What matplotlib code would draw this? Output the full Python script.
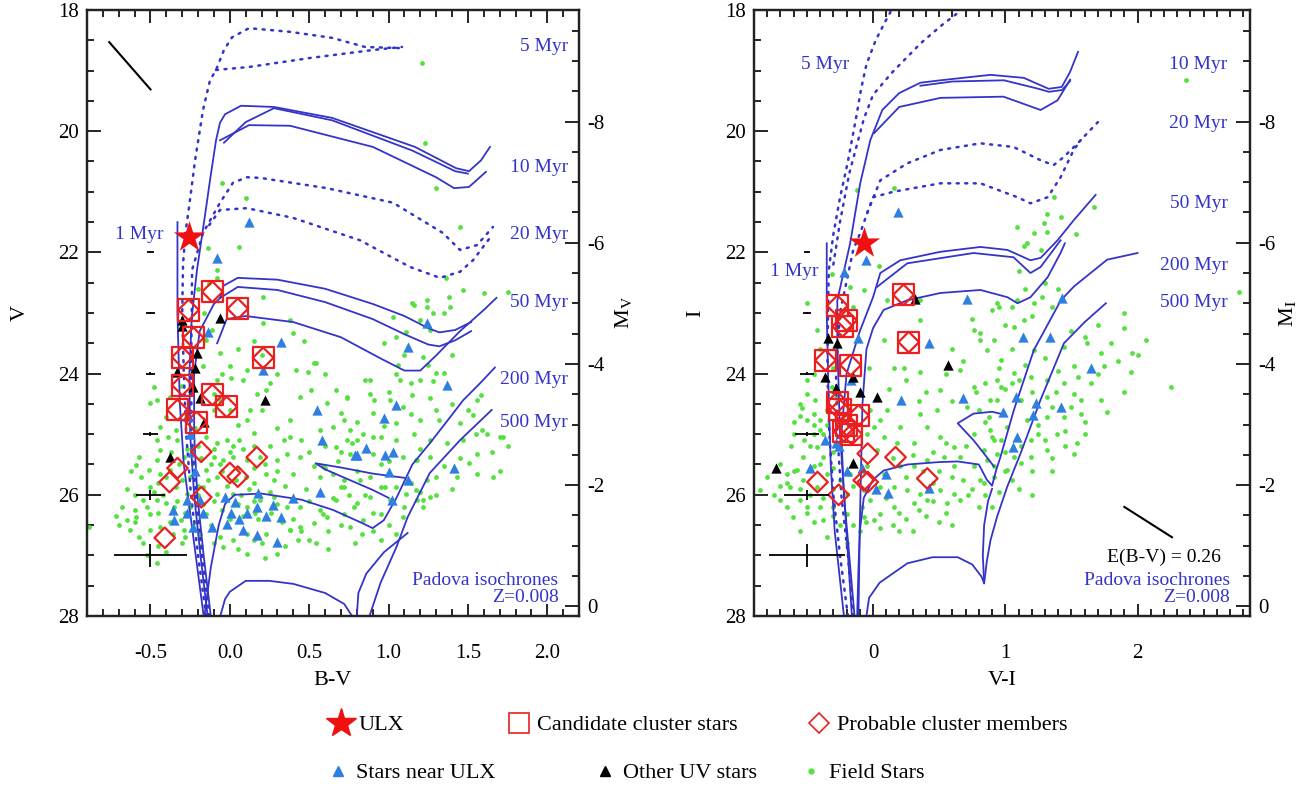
import matplotlib
matplotlib.use("Agg")
import matplotlib.pyplot as plt
from matplotlib.lines import Line2D
from matplotlib.ticker import MultipleLocator, FormatStrFormatter

plt.rcParams['font.family'] = ['Liberation Serif', 'DejaVu Serif']
plt.rcParams['mathtext.fontset'] = 'stix'
plt.rcParams['axes.unicode_minus'] = False

# distance modulus used for the absolute magnitude axis
dist_mod = 27.84

# ---------------- left panel: B-V vs V ----------------
ulx_left = [(-0.26, 21.75)]

field_left = [
    (1.21, 18.88), (1.23, 20.2), (1.30, 20.94), (-0.05, 20.85), (0.10, 21.1), (0.06, 21.91),
    (-0.14, 21.93), (-0.08, 22.29), (-0.08, 22.42), (0.21, 22.74), (1.45, 21.58), (1.36, 22.42),
    (1.15, 22.84), (1.24, 22.79), (1.38, 22.74), (1.47, 22.62), (1.60, 22.67), (1.75, 22.65),
    (1.03, 23.07), (-0.2, 22.6), (-0.13, 22.5),
    (-0.16, 23.0), (-0.15, 23.45), (0.15, 23.47), (0.47, 23.47), (0.40, 23.33), (0.21, 23.17),
    (-0.06, 23.66), (0.00, 23.88), (-0.08, 24.1), (0.01, 24.08), (0.08, 24.1), (0.11, 23.94),
    (0.17, 24.33), (0.25, 24.16), (0.23, 24.27), (0.42, 23.94), (0.49, 23.97), (0.53, 23.83),
    (0.44, 24.38), (0.51, 24.27), (0.61, 24.49), (0.74, 24.38), (0.72, 24.77), (0.76, 24.93),
    (0.65, 24.88), (0.57, 24.93), (0.38, 24.77), (0.38, 25.04), (0.34, 25.1), (0.15, 24.98),
    (0.11, 24.77), (0.13, 24.6), (0.00, 24.6), (-0.06, 24.43), (-0.10, 24.33), (0.06, 25.1),
    (0.02, 25.2), (-0.02, 25.1), (-0.08, 25.15), (-0.10, 25.37), (-0.04, 25.43), (0.02, 25.37),
    (0.11, 25.43), (0.19, 25.37), (0.30, 25.43), (0.36, 25.32), (0.44, 25.37), (0.53, 25.53),
    (0.57, 25.7), (0.65, 25.65), (0.72, 25.76), (0.40, 25.65), (0.28, 25.76), (0.23, 25.65),
    (0.15, 25.81), (-0.08, 25.7), (-0.15, 25.59), (-0.23, 25.48), (-0.29, 25.37), (-0.44, 25.26),
    (-0.46, 25.43), (-0.57, 25.37), (-0.59, 25.51), (-0.51, 25.59), (-0.44, 25.65), (-0.38, 25.59),
    (-0.50, 25.87), (-0.55, 26.08), (-0.46, 26.08), (-0.40, 26.14), (-0.50, 26.31), (-0.59, 26.36),
    (-0.65, 26.42), (-0.63, 26.58), (-0.57, 26.69), (-0.50, 26.58), (-0.44, 26.53), (-0.36, 26.64),
    (-0.29, 26.58), (-0.31, 26.42), (-0.19, 26.64), (-0.06, 26.69), (0.02, 26.75), (0.11, 26.64),
    (0.23, 26.64), (0.38, 26.58), (0.44, 26.53), (0.53, 26.47), (0.61, 26.36), (0.72, 26.31),
    (0.78, 26.2), (0.36, 26.2), (0.44, 26.2), (0.28, 26.03), (0.19, 26.08), (0.11, 26.2),
    (0.02, 25.98), (-0.08, 25.98), (-0.17, 25.87), (-0.27, 25.98), (-0.34, 25.87), (-0.25, 26.2),
    (-0.15, 26.31), (-0.04, 26.86), (0.30, 26.97), (0.11, 26.97), (-0.46, 27.13), (-0.89, 26.53),
    (-0.11, 23.28), (-0.17, 23.88), (-0.46, 24.43), (-0.38, 24.38), (-0.50, 24.49), (-0.48, 24.22),
    (-0.40, 24.71), (-0.44, 24.88), (-0.34, 24.93), (-0.39, 25.04), (-0.46, 25.1), (-0.27, 24.6),
    (-0.15, 25.04), (-0.2, 25.2), (-0.12, 25.5), (-0.05, 25.6), (0.05, 25.55), (0.1, 25.7),
    (-0.02, 25.85), (0.07, 26.0), (0.15, 26.1), (-0.1, 26.1), (-0.2, 26.0), (-0.28, 26.3),
    (-0.35, 26.2), (-0.42, 26.0), (-0.38, 26.45), (-0.22, 26.45), (-0.12, 26.5), (0.0, 26.4),
    (0.08, 26.35), (0.18, 26.4), (0.26, 26.3), (0.33, 26.45), (-0.45, 25.8), (-0.52, 26.2),
    (-0.6, 26.0), (-0.68, 26.2), (-0.7, 26.5), (-0.55, 26.8), (-0.45, 26.85), (-0.3, 26.8),
    (-0.18, 26.85), (0.05, 26.9), (0.2, 26.8), (0.5, 26.75), (0.62, 26.6), (0.7, 26.5),
    (-0.25, 25.7), (-0.32, 25.5), (-0.37, 25.3), (-0.22, 24.9), (-0.3, 24.2), (0.2, 24.6),
    (0.3, 24.9), (0.45, 25.1), (0.5, 25.3), (0.6, 25.2), (0.68, 25.45), (0.8, 25.6),
    (0.85, 26.0), (0.9, 26.3),
    (1.16, 22.87), (1.24, 22.9), (1.28, 23.0), (1.20, 23.11), (1.35, 23.0), (1.39, 22.9),
    (1.26, 23.28), (1.11, 23.31), (1.05, 23.39), (0.97, 23.5), (1.22, 23.72), (1.07, 24.1),
    (1.14, 24.16), (1.20, 24.1), (1.28, 24.13), (1.35, 23.99), (0.88, 24.1), (0.88, 24.33),
    (0.74, 24.41), (1.26, 24.41), (1.58, 24.35), (1.01, 24.44), (1.09, 24.55), (1.14, 24.66),
    (0.97, 24.87), (1.05, 24.82), (1.20, 24.77), (1.32, 24.77), (1.45, 24.82), (1.53, 24.68),
    (1.62, 24.99), (1.70, 25.04), (1.56, 25.32), (1.47, 25.1), (1.37, 25.15), (1.26, 25.1),
    (1.16, 24.99), (1.05, 25.1), (0.95, 25.04), (0.84, 24.99), (0.74, 25.1), (0.67, 25.21),
    (0.76, 25.32), (0.90, 25.32), (1.09, 25.37), (1.18, 25.43), (1.26, 25.37), (1.35, 25.53),
    (1.51, 25.48), (1.66, 25.7), (1.56, 25.65), (1.43, 25.7), (1.24, 25.76), (1.14, 25.81),
    (1.05, 25.87), (0.95, 25.87), (0.82, 25.76), (0.72, 25.87), (0.67, 26.08), (0.80, 26.14),
    (0.88, 26.03), (1.01, 26.08), (1.11, 25.98), (1.18, 26.08), (1.26, 26.03), (1.22, 26.2),
    (1.09, 26.36), (0.95, 26.31), (0.84, 26.42), (0.76, 26.53), (0.79, 26.8), (1.05, 26.64),
    (0.38, 23.11), (0.54, 23.83), (0.67, 24.27), (0.91, 24.43), (0.85, 24.1), (1.06, 23.86),
    (1.30, 23.99), (1.56, 24.43), (1.59, 24.93), (1.72, 25.04), (1.17, 25.43), (0.77, 25.15),
    (0.59, 25.53), (0.70, 25.87), (0.98, 25.87), (1.17, 25.92), (1.22, 26.08), (0.59, 26.31),
    (0.38, 26.58), (0.43, 26.75), (0.54, 26.8), (0.83, 26.64),
    (-0.33, 25.1), (-0.27, 25.25), (-0.18, 25.4), (-0.1, 25.25), (0.0, 25.3), (0.08, 25.25),
    (0.15, 25.55), (0.22, 25.5), (0.3, 25.6), (0.35, 25.85), (0.25, 25.95), (0.12, 25.9),
    (0.04, 25.75), (-0.06, 25.5), (-0.14, 25.75), (-0.2, 25.85), (-0.3, 25.75), (-0.4, 25.7),
    (-0.48, 25.95), (-0.56, 25.7), (-0.62, 25.6), (-0.65, 25.9), (-0.72, 26.35), (-0.6, 26.25),
    (-0.45, 26.3), (-0.33, 26.1), (-0.17, 26.15), (-0.05, 26.25), (0.05, 26.15), (0.16, 26.3),
    (0.3, 26.15), (0.4, 26.4), (0.5, 26.1), (0.57, 26.25), (0.65, 26.05), (0.75, 26.0),
    (0.48, 25.9), (0.6, 25.55), (0.7, 25.3), (0.8, 25.1), (0.9, 25.05), (0.95, 25.5),
    (0.88, 25.7), (1.0, 25.45), (1.2, 25.25), (1.3, 25.7), (1.4, 25.9), (1.45, 25.4),
    (1.55, 25.0), (1.65, 25.3), (1.5, 24.6), (1.4, 24.5), (1.3, 24.6), (1.15, 24.35),
    (1.0, 24.3), (0.9, 24.65), (0.8, 24.8), (0.7, 24.65), (0.6, 24.0), (0.3, 24.0),
    (0.2, 23.7), (0.05, 23.6), (-0.05, 24.0), (-0.1, 24.6), (0.05, 24.85), (0.25, 25.2),
    (0.15, 25.2), (-0.28, 26.7), (-0.1, 26.8), (0.15, 26.75), (0.35, 26.85), (0.45, 26.6),
    (-0.4, 26.95), (-0.6, 26.45), (-0.52, 27.0), (0.22, 27.05), (1.7, 25.6), (1.75, 25.2),
    (1.1, 26.2), (1.0, 26.5), (0.9, 26.6), (1.3, 26.0), (1.2, 25.95), (0.95, 26.75),
    (0.62, 26.9), (1.05, 24.0), (1.25, 23.85), (1.4, 23.7), (1.1, 23.7),
]

near_left = [
    (0.12, 21.5), (-0.08, 22.09), (-0.14, 23.31), (0.32, 23.48), (0.21, 23.94), (0.55, 24.6),
    (0.58, 25.1), (0.79, 25.34), (0.57, 25.95), (0.40, 26.05), (0.18, 25.97), (0.27, 26.17),
    (0.32, 26.37), (0.17, 26.66), (0.30, 26.78), (0.08, 26.58), (-0.03, 26.04), (0.01, 26.3),
    (-0.11, 26.53), (-0.23, 26.53), (-0.36, 26.25), (-0.35, 26.42), (-0.27, 26.3), (-0.17, 26.3),
    (-0.19, 26.09), (0.11, 26.3), (0.17, 26.2), (0.23, 26.35), (0.06, 26.4), (-0.02, 26.48),
    (0.03, 26.12), (-0.27, 26.09), (-0.27, 24.7), (-0.25, 25.0), (-0.24, 25.3), (-0.22, 25.6),
    (1.24, 23.17), (1.12, 23.56), (1.37, 24.19), (1.05, 24.52), (0.97, 24.73), (0.86, 25.23),
    (0.80, 25.34), (0.98, 25.34), (1.03, 25.29), (1.00, 25.62), (1.41, 25.56), (1.12, 25.76),
    (1.02, 26.09),
]

uv_left = [
    (-0.30, 23.12), (-0.06, 23.08), (-0.30, 23.22), (-0.21, 23.66), (-0.22, 23.91), (-0.33, 23.97),
    (-0.23, 24.22), (-0.19, 24.4), (0.22, 24.44), (-0.16, 24.8), (-0.38, 25.38),
]

cand_left = [
    (-0.11, 22.65), (-0.26, 22.95), (0.05, 22.93), (-0.23, 23.41), (-0.30, 23.73), (0.21, 23.74),
    (-0.30, 24.19), (-0.11, 24.35), (-0.02, 24.55), (-0.33, 24.6), (-0.21, 24.8),
]

prob_left = [
    (-0.18, 25.29), (0.17, 25.38), (-0.38, 25.79), (0.00, 25.64), (0.05, 25.7), (-0.18, 26.04),
    (-0.41, 26.71), (-0.33, 25.56),
]

# isochrones, left panel (B-V, V)
iso_l_1myr = [(-0.33, 21.5), (-0.33, 23.0), (-0.315, 24.5), (-0.29, 25.5), (-0.24, 26.5),
              (-0.20, 27.3), (-0.165, 28.0)]
iso_l_5myr_a = [(-0.15, 28.0), (-0.2, 27.0), (-0.245, 26.0), (-0.275, 25.0), (-0.29, 24.0),
                (-0.30, 23.0), (-0.295, 22.2), (-0.28, 21.68), (-0.257, 21.25), (-0.219, 20.48),
                (-0.169, 19.65), (-0.125, 19.16), (-0.087, 18.99), (-0.037, 18.66), (0.014, 18.45),
                (0.121, 18.30), (0.379, 18.36), (0.644, 18.46), (0.852, 18.61), (1.085, 18.63)]
iso_l_5myr_b = [(-0.087, 18.99), (0.121, 18.94), (0.511, 18.79), (0.902, 18.66), (1.085, 18.61)]
iso_l_10myr_a = [(-0.14, 28.0), (-0.185, 27.0), (-0.225, 26.0), (-0.25, 25.0), (-0.255, 24.0),
                 (-0.24, 23.07), (-0.207, 22.29), (-0.156, 21.38), (-0.125, 20.81), (-0.087, 20.15),
                 (-0.062, 19.86), (-0.03, 19.72), (0.07, 19.58), (0.278, 19.60), (0.644, 19.78),
                 (1.167, 20.26), (1.425, 20.61), (1.507, 20.66), (1.583, 20.48), (1.639, 20.26)]
iso_l_10myr_b = [(-0.062, 20.15), (0.121, 19.90), (0.379, 19.91), (0.902, 20.26), (1.299, 20.76),
                 (1.413, 20.94), (1.507, 20.92), (1.614, 20.67)]
iso_l_10myr_c = [(-0.037, 20.19), (0.1, 19.85), (0.278, 19.62), (0.644, 19.82), (1.15, 20.32),
                 (1.42, 20.66), (1.5, 20.70)]
iso_l_20myr_a = [(-0.13, 28.0), (-0.175, 27.0), (-0.215, 26.0), (-0.24, 25.0), (-0.245, 24.0),
                 (-0.24, 23.0), (-0.238, 22.29), (-0.169, 21.68), (-0.062, 21.18), (0.020, 20.85),
                 (0.108, 20.76), (0.190, 20.77), (0.612, 20.94), (1.028, 21.18), (1.343, 21.68),
                 (1.450, 21.96), (1.557, 21.88), (1.658, 21.58)]
iso_l_20myr_b = [(-0.13, 21.55), (-0.062, 21.30), (0.108, 21.27), (0.398, 21.43), (0.820, 21.80),
                 (1.135, 22.24), (1.324, 22.42), (1.450, 22.32), (1.532, 22.13), (1.639, 21.76)]
iso_l_50myr_a = [(-0.12, 28.0), (-0.165, 27.0), (-0.205, 26.0), (-0.225, 25.0), (-0.225, 24.0),
                 (-0.19, 23.3), (-0.1, 22.85), (-0.06, 22.75), (-0.04, 22.55), (0.05, 22.42),
                 (0.3, 22.45), (0.6, 22.6), (0.9, 22.85), (1.1, 23.05), (1.25, 23.25), (1.32, 23.32),
                 (1.42, 23.28), (1.52, 23.15)]
iso_l_50myr_b = [(-0.06, 22.75), (0.05, 22.57), (0.3, 22.62), (0.6, 22.82), (0.9, 23.1), (1.1, 23.35),
                 (1.25, 23.52), (1.32, 23.55), (1.42, 23.45), (1.52, 23.3)]
iso_l_50myr_c = [(-0.08, 23.5), (-0.02, 23.1), (0.1, 23.05), (0.4, 23.15), (0.7, 23.4), (0.95, 23.75),
                 (1.1, 23.95), (1.2, 23.95), (1.3, 23.7), (1.45, 23.3), (1.6, 22.95), (1.68, 22.75)]
iso_l_200myr_a = [(-0.16, 28.0), (-0.12, 27.2), (-0.07, 26.5), (-0.03, 26.15), (0.03, 26.0),
                  (0.2, 25.98), (0.45, 26.08), (0.65, 26.25), (0.82, 26.45), (0.9, 26.55),
                  (0.97, 26.42), (1.05, 26.05), (1.15, 25.5), (1.26, 25.15), (1.37, 24.78),
                  (1.47, 24.44), (1.58, 24.15), (1.67, 23.9)]
iso_l_200myr_b = [(1.1, 25.72), (0.9, 25.65), (0.7, 25.55), (0.54, 25.48), (0.6, 25.58),
                  (0.75, 25.75), (0.9, 25.92), (1.0, 26.05)]
iso_l_500myr_a = [(-0.06, 28.0), (-0.03, 27.72), (0.0, 27.6), (0.1, 27.42), (0.25, 27.42),
                  (0.4, 27.47), (0.6, 27.62), (0.72, 27.8), (0.77, 28.0)]
iso_l_500myr_b = [(0.88, 28.0), (0.95, 27.45), (1.05, 26.86), (1.12, 26.37), (1.26, 25.64),
                  (1.45, 25.1), (1.65, 24.6)]
iso_l_500myr_c = [(0.80, 28.0), (0.81, 27.62), (0.86, 27.3), (0.97, 26.95), (1.12, 26.63)]

# ---------------- right panel: V-I vs I ----------------
ulx_right = [(-0.07, 21.85)]

field_right = [
    (0.156, 20.94), (-0.122, 20.97), (0.042, 22.22), (-0.072, 22.62), (-0.173, 22.57), (-0.501, 22.84),
    (-0.312, 22.35), (1.09, 21.58), (1.166, 21.85), (1.267, 21.96), (1.292, 21.52), (1.317, 21.36),
    (1.418, 21.41), (1.368, 21.08), (1.532, 21.69), (1.671, 21.25), (0.938, 22.84), (1.09, 22.79),
    (1.216, 22.84), (1.28, 22.73), (1.14, 21.9), (1.216, 21.68), (1.317, 21.66), (2.77, 22.65),
    (2.365, 19.16), (0.358, 22.79), (0.105, 22.79), (-0.15, 22.9),
    (0.358, 23.12), (0.08, 23.45), (-0.034, 23.91), (0.156, 23.91), (0.231, 23.91), (0.358, 23.97),
    (0.509, 24.27), (0.661, 23.94), (0.812, 23.45), (0.762, 23.28), (-0.425, 23.28), (-0.501, 24.33),
    (-0.539, 24.57), (-0.438, 24.44), (-0.45, 24.66), (-0.501, 24.77), (-0.40, 24.93), (-0.021, 24.6),
    (0.055, 24.77), (0.105, 24.6), (0.004, 24.88), (-0.046, 24.99), (0.08, 25.04), (0.206, 24.88),
    (0.307, 25.15), (0.408, 24.88), (0.509, 25.04), (0.61, 25.21), (0.534, 25.37), (0.661, 25.37),
    (0.408, 25.43), (0.307, 25.53), (0.206, 25.53), (0.08, 25.65), (0.055, 25.87), (0.156, 25.87),
    (0.257, 25.92), (0.358, 25.98), (0.509, 25.92), (0.61, 25.98), (0.661, 26.08), (0.56, 26.14),
    (0.408, 26.08), (0.307, 26.14), (0.156, 26.2), (0.055, 26.31), (-0.021, 26.08), (-0.072, 26.36),
    (0.004, 26.42), (-0.198, 26.31), (-0.299, 26.2), (-0.4, 26.2), (-0.501, 26.2), (-0.602, 26.36),
    (-0.551, 26.08), (-0.627, 25.87), (-0.526, 25.76), (-0.425, 25.87), (-0.349, 25.65), (-0.45, 25.53),
    (-0.375, 25.37), (-0.425, 25.21), (-0.526, 25.37), (-0.577, 25.59), (-0.652, 25.65), (-0.854, 25.92),
    (-0.703, 26.08), (-0.375, 26.42), (-0.072, 25.92), (-0.173, 25.65), (-0.046, 25.53), (-0.198, 25.98),
    (-0.375, 24.99), (-0.4, 24.77), (-0.312, 24.22), (0.029, 25.26), (0.181, 25.15), (0.358, 24.66),
    (0.484, 24.6), (0.762, 24.22), (0.711, 24.55),
    (0.812, 23.33), (0.863, 23.61), (0.938, 24.1), (0.762, 24.99), (0.837, 25.26), (0.913, 25.53),
    (0.762, 25.53), (0.61, 25.53), (0.812, 25.76), (0.913, 25.1), (0.938, 24.43), (0.875, 24.71),
    (1.065, 23.23), (0.913, 23.45), (0.964, 23.78), (1.14, 23.12), (1.216, 23.61), (1.443, 23.56),
    (1.519, 23.88), (1.62, 23.5), (1.721, 23.66), (1.746, 23.88), (1.645, 24.16), (1.519, 24.33),
    (1.443, 24.16), (1.317, 24.1), (1.191, 24.05), (1.065, 23.99), (0.964, 24.22), (0.888, 24.43),
    (1.115, 24.43), (1.317, 24.38), (1.57, 24.43), (1.721, 24.43), (1.772, 24.63), (1.57, 24.66),
    (1.443, 24.71), (1.317, 24.71), (1.166, 24.77), (1.014, 24.88), (0.888, 24.93), (0.964, 25.1),
    (1.191, 25.1), (1.393, 24.99), (1.544, 25.15), (1.519, 25.32), (1.317, 25.26), (1.191, 25.37),
    (1.065, 25.37), (0.938, 25.32), (0.863, 25.43), (0.913, 25.7), (1.014, 25.59), (1.115, 25.48),
    (0.837, 25.81), (1.898, 23.25), (2.062, 23.45), (1.961, 23.66), (1.948, 23.97), (2.251, 24.22),
    (0.75, 23.1), (0.9, 22.95), (1.0, 23.2), (1.2, 23.05), (1.35, 22.9), (1.05, 22.9), (1.5, 23.3),
    (1.7, 23.2), (1.9, 23.0), (0.6, 23.6), (0.55, 24.0), (0.68, 23.8), (0.85, 24.15), (1.0, 24.25),
    (1.1, 24.1), (1.38, 24.3), (1.25, 24.85), (1.45, 24.95), (1.35, 25.4), (1.2, 25.6), (1.05, 25.75),
    (0.95, 25.95), (0.8, 26.2), (0.72, 26.0), (0.6, 25.7), (0.5, 25.6), (0.45, 25.8), (0.55, 26.3),
    (0.4, 26.35), (0.25, 26.4), (0.15, 26.5), (0.3, 26.6), (-0.1, 26.6), (-0.25, 26.5), (-0.45, 26.45),
    (-0.55, 26.6), (-0.35, 26.7), (-0.2, 26.8), (-0.4, 23.6), (-0.45, 24.0), (-0.3, 23.9), (-0.5, 24.1),
    (-0.55, 24.5), (-0.6, 24.8), (-0.62, 25.2), (-0.7, 25.5), (-0.65, 25.8), (-0.75, 26.0), (-0.8, 25.7),
    (-0.6, 25.0), (-0.52, 25.1), (-0.45, 25.0), (-0.35, 24.85), (-0.3, 25.3), (-0.48, 25.2),
    (-0.55, 25.9), (-0.48, 26.0), (-0.38, 26.05), (-0.3, 25.9), (-0.25, 25.75), (-0.15, 25.85),
    (-0.08, 26.2), (0.1, 26.05), (0.2, 26.3), (0.35, 26.25), (0.45, 26.1), (0.5, 26.45),
    (0.38, 25.6), (0.25, 25.7), (0.15, 25.4), (0.3, 25.35), (0.45, 25.3), (0.55, 25.15),
    (0.7, 25.2), (0.68, 25.75), (0.75, 25.9), (0.85, 26.0), (0.6, 26.5), (0.2, 26.6),
    (0.05, 26.55), (-0.05, 26.45), (-0.15, 26.5), (-0.3, 26.35), (-0.5, 26.3), (-0.65, 26.2),
    (-0.7, 25.85), (-0.6, 25.6), (-0.4, 25.5), (-0.3, 25.55), (-0.45, 24.85), (-0.55, 24.7),
    (-0.35, 24.6), (-0.28, 24.4), (0.25, 24.1), (0.4, 24.3), (0.6, 24.45), (0.35, 24.45),
    (0.12, 24.25), (0.8, 24.6), (0.78, 24.3), (0.95, 23.9), (1.05, 23.6), (1.15, 23.85),
    (1.3, 23.75), (1.4, 23.95), (1.55, 24.05), (1.6, 24.8), (1.5, 24.55), (1.35, 24.55),
    (1.2, 24.3), (1.05, 24.15), (1.25, 25.0), (1.12, 25.2), (1.0, 25.3), (0.9, 25.05),
    (0.85, 24.8), (1.3, 25.1), (1.45, 25.2), (1.6, 25.0), (1.35, 25.6), (1.0, 25.6),
    (1.1, 25.9), (0.9, 26.2), (1.2, 26.0), (0.95, 22.9), (1.15, 22.6), (1.3, 22.5),
    (1.1, 22.3), (1.4, 22.6), (1.6, 23.4), (1.8, 23.5), (1.85, 23.8), (1.7, 24.0),
    (2.0, 23.7), (1.9, 24.3),
]

near_right = [
    (0.19, 21.33), (-0.05, 22.13), (-0.22, 22.32), (0.71, 22.77), (1.43, 22.75), (-0.11, 23.41),
    (0.42, 23.5), (0.21, 24.44), (0.68, 24.4), (-0.17, 24.1), (-0.48, 25.56), (0.11, 25.97),
    (0.42, 25.89), (1.13, 23.39), (1.34, 23.39), (1.65, 23.91), (1.08, 24.38), (1.23, 24.49),
    (1.42, 24.55), (0.98, 24.63), (1.21, 24.69), (1.09, 25.05), (1.06, 25.21), (-0.28, 25.15),
    (-0.2, 25.6), (-0.08, 25.55), (0.02, 25.9), (-0.36, 25.1), (-0.26, 25.2), (0.1, 25.65),
]

uv_right = [
    (-0.34, 23.41), (-0.27, 23.5), (-0.36, 24.05), (-0.15, 24.05), (0.57, 23.86), (-0.28, 24.24),
    (-0.10, 24.3), (0.03, 24.38), (-0.73, 25.56), (-0.15, 25.48), (0.32, 22.77),
]

cand_right = [
    (-0.27, 22.88), (0.23, 22.7), (-0.20, 23.12), (-0.23, 23.22), (0.27, 23.48), (-0.36, 23.78),
    (-0.17, 23.86), (-0.27, 24.47), (-0.25, 24.6), (-0.11, 24.69), (-0.20, 24.85), (-0.16, 25.0),
    (-0.22, 24.95),
]

prob_right = [
    (-0.04, 25.32), (0.17, 25.38), (-0.42, 25.79), (-0.07, 25.76), (-0.04, 25.79), (0.41, 25.73),
    (-0.26, 26.0),
]

# isochrones, right panel (V-I, I)
iso_r_1myr = [(-0.35, 21.85), (-0.35, 23.0), (-0.34, 24.0), (-0.32, 25.5), (-0.29, 26.6),
              (-0.25, 27.4), (-0.22, 28.0)]
iso_r_5myr_a = [(-0.19, 28.0), (-0.25, 27.0), (-0.3, 26.0), (-0.33, 25.0), (-0.345, 24.0),
                (-0.34, 23.0), (-0.335, 22.3), (-0.30, 21.7), (-0.25, 21.1), (-0.19, 20.5),
                (-0.13, 19.8), (-0.09, 19.3), (-0.05, 18.9), (0.02, 18.5), (0.09, 18.2), (0.14, 18.0)]
iso_r_5myr_b = [(-0.30, 22.2), (-0.25, 21.5), (-0.18, 20.7), (-0.07, 19.8), (0.0, 19.4),
                (0.14, 19.04), (0.36, 18.55), (0.52, 18.25), (0.64, 18.05)]
iso_r_10myr_a = [(-0.16, 28.0), (-0.2, 26.63), (-0.25, 24.98), (-0.27, 23.5), (-0.27, 22.79),
                 (-0.173, 21.85), (-0.097, 20.86), (-0.021, 20.15), (0.07, 19.65), (0.198, 19.37),
                 (0.358, 19.2), (0.51, 19.16), (0.888, 19.07), (1.14, 19.12), (1.327, 19.3),
                 (1.427, 19.27), (1.49, 19.02), (1.55, 18.69)]
iso_r_10myr_b = [(0.358, 19.25), (0.6, 19.18), (0.99, 19.16), (1.25, 19.3), (1.33, 19.35),
                 (1.43, 19.32), (1.49, 19.17)]
iso_r_10myr_c = [(0.009, 20.03), (0.198, 19.6), (0.51, 19.45), (0.986, 19.43), (1.267, 19.65),
                 (1.395, 19.49), (1.49, 19.15)]
iso_r_20myr_a = [(-0.15, 28.0), (-0.19, 27.0), (-0.24, 26.0), (-0.27, 25.0), (-0.28, 24.0),
                 (-0.25, 23.0), (-0.15, 21.96), (-0.097, 21.68), (-0.044, 21.35), (0.055, 20.81),
                 (0.259, 20.53), (0.509, 20.31), (0.812, 20.2), (1.062, 20.26), (1.267, 20.48),
                 (1.365, 20.56), (1.44, 20.43), (1.547, 20.2), (1.70, 19.85)]
iso_r_20myr_b = [(-0.044, 21.35), (0.0, 21.09), (0.152, 21.0), (0.509, 20.86), (0.812, 20.86),
                 (1.092, 21.09), (1.19, 21.19), (1.32, 21.09), (1.418, 20.76), (1.517, 20.31),
                 (1.57, 20.15)]
iso_r_50myr_a = [(-0.14, 28.0), (-0.18, 27.0), (-0.22, 26.0), (-0.24, 25.0), (-0.2, 24.0),
                 (-0.1, 23.3), (0.0, 22.74), (0.055, 22.34), (0.206, 22.13), (0.509, 21.99),
                 (0.812, 21.91), (1.017, 21.96), (1.19, 22.13), (1.267, 22.09), (1.395, 21.80),
                 (1.517, 21.47), (1.683, 21.05)]
iso_r_50myr_b = [(0.03, 22.57), (0.259, 22.18), (0.76, 22.01), (1.062, 22.08), (1.19, 22.34),
                 (1.267, 22.24), (1.418, 21.80)]
iso_r_50myr_c = [(-0.11, 28.0), (-0.1, 26.5), (-0.08, 24.5), (-0.05, 23.6), (0.0, 23.25),
                 (0.08, 22.95), (0.259, 22.79), (0.509, 22.67), (0.812, 22.62), (1.017, 22.74),
                 (1.092, 22.84), (1.19, 22.74), (1.32, 22.41), (1.42, 22.0), (1.45, 21.85)]
iso_r_200myr_a = [(-0.12, 28.0), (-0.11, 27.2), (-0.1, 26.6), (-0.07, 26.05), (0.0, 25.75),
                  (0.08, 25.6), (0.26, 25.5), (0.5, 25.46), (0.64, 25.45), (0.8, 25.5),
                  (0.86, 25.75), (0.9, 25.85), (0.93, 25.6), (0.964, 25.37), (1.065, 24.6),
                  (1.216, 23.61), (1.42, 22.79), (1.52, 22.56), (1.77, 22.12), (2.0, 22.01)]
iso_r_200myr_b = [(1.0, 24.68), (0.9, 24.63), (0.76, 24.66), (0.64, 24.82), (0.76, 25.1),
                  (0.85, 25.35), (0.913, 25.53)]
iso_r_500myr_a = [(-0.05, 28.0), (-0.03, 27.7), (0.05, 27.45), (0.26, 27.13), (0.45, 27.03),
                  (0.64, 27.03), (0.75, 27.15), (0.82, 27.35), (0.84, 27.46), (0.86, 27.1),
                  (0.888, 26.75), (0.938, 26.36), (1.014, 25.87), (1.115, 25.32), (1.267, 24.43),
                  (1.443, 23.5), (1.6, 23.15), (1.76, 22.84)]
iso_r_500myr_b = [(0.84, 27.46), (0.83, 27.0), (0.84, 26.5), (0.87, 26.1), (0.9, 25.9)]

# photometric error bars at the left of each panel
err_mag = [22, 23, 24, 25, 26, 27]
err_col_left = [0.02, 0.03, 0.03, 0.05, 0.09, 0.23]
err_col_right = [0.02, 0.03, 0.05, 0.09, 0.17, 0.29]
err_mag_size = [0.01, 0.01, 0.02, 0.03, 0.08, 0.19]

# reddening vectors
redvec_left = [(-0.76, 18.53), (-0.50, 19.31)]
redvec_right = [(1.90, 26.20), (2.26, 26.70)]

# age labels: (text, magnitude)
ages_left = [('5 Myr', 18.61), ('10 Myr', 20.6), ('20 Myr', 21.71), ('50 Myr', 22.82),
             ('200 Myr', 24.1), ('500 Myr', 24.8)]
ages_right = [('10 Myr', 18.9), ('20 Myr', 19.87), ('50 Myr', 21.19), ('200 Myr', 22.21),
              ('500 Myr', 22.82)]

BLUE = '#3434c8'
GREEN = '#55e040'
TRI_BLUE = '#2f7fe0'
RED = '#ea2020'


def xs(pts):
    return [p[0] for p in pts]


def ys(pts):
    return [p[1] for p in pts]


def draw_panel(ax, field, near, uv, cand, prob, ulx, solid, dotted, err_col, redvec):
    ax.scatter(xs(field), ys(field), s=12, color=GREEN, lw=0, zorder=2)
    for iso in solid:
        ax.plot(xs(iso), ys(iso), color=BLUE, lw=1.3, zorder=3)
    for iso in dotted:
        ax.plot(xs(iso), ys(iso), color=BLUE, lw=1.8, ls=(0, (0.8, 2.6)),
                dash_capstyle='round', zorder=3)
    ax.scatter(xs(near), ys(near), s=55, marker='^', color=TRI_BLUE, lw=0, zorder=4)
    ax.scatter(xs(uv), ys(uv), s=55, marker='^', color='black', lw=0, zorder=4)
    ax.scatter(xs(cand), ys(cand), s=230, marker='s', facecolor='none', edgecolor=RED,
               lw=1.6, zorder=5)
    ax.scatter(xs(cand), ys(cand), s=110, marker='D', facecolor='none', edgecolor=RED,
               lw=1.6, zorder=5)
    ax.scatter(xs(prob), ys(prob), s=110, marker='D', facecolor='none', edgecolor=RED,
               lw=1.6, zorder=5)
    ax.scatter(xs(ulx), ys(ulx), s=560, marker='*', color='#f01010', lw=0, zorder=6)
    ax.errorbar([-0.5] * len(err_mag), err_mag, xerr=err_col, yerr=err_mag_size,
                fmt='none', ecolor='black', elinewidth=1.3, capsize=0, zorder=5)
    ax.plot(xs(redvec), ys(redvec), color='black', lw=1.5, zorder=5)

    ax.set_ylim(28, 18)
    ax.yaxis.set_major_locator(MultipleLocator(2))
    ax.yaxis.set_minor_locator(MultipleLocator(0.5))
    ax.xaxis.set_minor_locator(MultipleLocator(0.1))
    ax.tick_params(which='both', direction='in', top=True, right=False, labelsize=15, width=1.2)
    ax.tick_params(axis='x', which='major', length=9, pad=20)
    ax.tick_params(axis='x', which='minor', length=5)
    ax.tick_params(axis='y', which='major', length=10, pad=6)
    ax.tick_params(axis='y', which='minor', length=5)
    for sp in ax.spines.values():
        sp.set_linewidth(1.6)
        sp.set_color('#222222')

    tw = ax.twinx()
    tw.set_ylim(28 - dist_mod, 18 - dist_mod)
    tw.yaxis.set_major_locator(MultipleLocator(2))
    tw.yaxis.set_minor_locator(MultipleLocator(0.5))
    tw.tick_params(which='both', direction='in', labelsize=15, width=1.2)
    tw.tick_params(which='major', length=10, pad=6)
    tw.tick_params(which='minor', length=5)
    for sp in tw.spines.values():
        sp.set_linewidth(1.6)
        sp.set_color('#222222')
    return tw


fig = plt.figure(figsize=(13.01, 7.89), dpi=100)
ax1 = fig.add_axes([87 / 1301, 1 - 616 / 789, 492 / 1301, 606 / 789])
ax2 = fig.add_axes([754 / 1301, 1 - 616 / 789, 496 / 1301, 606 / 789])

solid_left = [iso_l_1myr, iso_l_10myr_a, iso_l_10myr_b, iso_l_10myr_c, iso_l_50myr_a,
              iso_l_50myr_b, iso_l_50myr_c, iso_l_200myr_a, iso_l_200myr_b,
              iso_l_500myr_a, iso_l_500myr_b, iso_l_500myr_c]
dotted_left = [iso_l_5myr_a, iso_l_5myr_b, iso_l_20myr_a, iso_l_20myr_b]
tw1 = draw_panel(ax1, field_left, near_left, uv_left, cand_left, prob_left, ulx_left,
                 solid_left, dotted_left, err_col_left, redvec_left)
ax1.set_xlim(-0.9, 2.2)
ax1.xaxis.set_major_locator(MultipleLocator(0.5))
ax1.xaxis.set_major_formatter(FormatStrFormatter('%.1f'))
ax1.set_xlabel('B-V', fontsize=16, labelpad=6)
ax1.set_ylabel('V', fontsize=16, labelpad=20)
tw1.set_ylabel(r'M$_{\rm V}$', fontsize=16, labelpad=6)

solid_right = [iso_r_1myr, iso_r_10myr_a, iso_r_10myr_b, iso_r_10myr_c, iso_r_50myr_a,
               iso_r_50myr_b, iso_r_50myr_c, iso_r_200myr_a, iso_r_200myr_b,
               iso_r_500myr_a, iso_r_500myr_b]
dotted_right = [iso_r_5myr_a, iso_r_5myr_b, iso_r_20myr_a, iso_r_20myr_b]
tw2 = draw_panel(ax2, field_right, near_right, uv_right, cand_right, prob_right, ulx_right,
                 solid_right, dotted_right, err_col_right, redvec_right)
ax2.set_xlim(-0.9, 2.85)
ax2.xaxis.set_major_locator(MultipleLocator(1))
ax2.xaxis.set_major_formatter(FormatStrFormatter('%d'))
ax2.set_xlabel('V-I', fontsize=16, labelpad=6)
ax2.set_ylabel('I', fontsize=16, labelpad=14)
tw2.set_ylabel(r'M$_{\rm I}$', fontsize=16, labelpad=1)

# isochrone age labels
for txt, yv in ages_left:
    ax1.text(2.13, yv, txt, color=BLUE, fontsize=14, ha='right', va='center', zorder=7)
ax1.text(-0.42, 21.71, '1 Myr', color=BLUE, fontsize=14, ha='right', va='center')
ax1.text(2.07, 27.42, 'Padova isochrones', color=BLUE, fontsize=14, ha='right', va='center')
ax1.text(2.07, 27.70, 'Z=0.008', color=BLUE, fontsize=14, ha='right', va='center')

for txt, yv in ages_right:
    ax2.text(2.68, yv, txt, color=BLUE, fontsize=14, ha='right', va='center', zorder=7)
ax2.text(-0.415, 22.32, '1 Myr', color=BLUE, fontsize=14, ha='right', va='center')
ax2.text(-0.545, 18.9, '5 Myr', color=BLUE, fontsize=14, ha='left', va='center')
ax2.text(2.63, 27.03, 'E(B-V) = 0.26', color='black', fontsize=14, ha='right', va='center')
ax2.text(2.70, 27.42, 'Padova isochrones', color=BLUE, fontsize=14, ha='right', va='center')
ax2.text(2.70, 27.70, 'Z=0.008', color=BLUE, fontsize=14, ha='right', va='center')

# legend, two rows of three entries
entries = [
    (Line2D([], [], marker='*', color='#f01010', ms=22, ls='none'), 'ULX', 330, 725),
    (Line2D([], [], marker='s', mfc='none', mec=RED, ms=14, mew=1.2, ls='none'),
     'Candidate cluster stars', 508, 725),
    (Line2D([], [], marker='D', mfc='none', mec=RED, ms=10, mew=1.2, ls='none'),
     'Probable cluster members', 808, 725),
    (Line2D([], [], marker='^', color=TRI_BLUE, ms=7, ls='none'), 'Stars near ULX', 327, 773),
    (Line2D([], [], marker='^', color='black', ms=7, ls='none'), 'Other UV stars', 594, 773),
    (Line2D([], [], marker='o', color=GREEN, ms=3.5, ls='none'), 'Field Stars', 800, 773),
]
for h, lab, px, py in entries:
    fig.legend([h], [lab], loc='center left', bbox_to_anchor=(px / 1301, 1 - py / 789),
               frameon=False, fontsize=16, handlelength=1.0, handletextpad=0.3,
               borderpad=0, borderaxespad=0)

fig.savefig('out.png', dpi=100)
